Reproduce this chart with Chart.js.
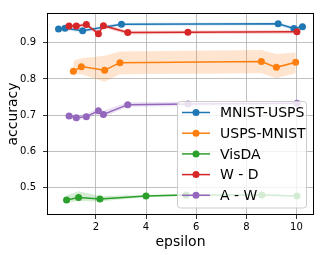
<!DOCTYPE html>
<html>
<head>
<meta charset="utf-8">
<script src="https://cdn.jsdelivr.net/npm/chart.js@4"></script>
<style>
  html, body { margin: 0; padding: 0; background: #fff; }
  #wrap { width: 320px; height: 255px; }
</style>
</head>
<body>
<div id="wrap"><canvas id="c" width="320" height="255"></canvas></div>
<script>
'use strict';

/* ── Data ──────────────────────────────────────────────────── */
const xTicks = [2, 4, 6, 8, 10];
const xTickLabels = ['2', '4', '6', '8', '10'];
const yTicks = [0.5, 0.6, 0.7, 0.8, 0.9];
const yTickLabels = ['0.5', '0.6', '0.7', '0.8', '0.9'];

const seriesNames = ['MNIST-USPS', 'USPS-MNIST', 'VisDA', 'W - D', 'A - W'];
const seriesColors = ['#1f77b4', '#ff7f0e', '#2ca02c', '#d62728', '#9467bd'];
const bandColors = ['rgba(31,119,180,0.2)', 'rgba(255,127,14,0.2)', 'rgba(44,160,44,0.2)',
                    'rgba(214,39,40,0.2)', 'rgba(148,103,189,0.2)'];

const epsMU = [0.51, 0.77, 1.47, 3.02, 9.27, 9.9, 10.24];
const accMU = [0.938, 0.940, 0.933, 0.951, 0.952, 0.939, 0.944];
const loMU  = [0.934, 0.936, 0.928, 0.947, 0.948, 0.934, 0.940];
const hiMU  = [0.942, 0.944, 0.938, 0.955, 0.956, 0.944, 0.948];

const epsUM = [1.1, 1.42, 2.35, 2.96, 8.6, 9.2, 9.97];
const accUM = [0.821, 0.834, 0.824, 0.845, 0.848, 0.832, 0.846];
const loUM  = [0.812, 0.813, 0.792, 0.813, 0.816, 0.802, 0.816];
const hiUM  = [0.850, 0.857, 0.864, 0.876, 0.880, 0.869, 0.873];

const epsVD = [0.83, 1.31, 2.16, 4.0, 5.6, 8.62, 10.02];
const accVD = [0.466, 0.473, 0.469, 0.477, 0.480, 0.480, 0.477];
const loVD  = [0.458, 0.463, 0.462, 0.474, 0.477, 0.477, 0.474];
const hiVD  = [0.478, 0.490, 0.477, 0.480, 0.483, 0.483, 0.480];

const epsWD = [0.93, 1.22, 1.62, 2.1, 2.3, 3.27, 5.67, 10.02];
const accWD = [0.946, 0.946, 0.950, 0.925, 0.947, 0.928, 0.929, 0.930];
const loWD  = [0.941, 0.941, 0.945, 0.919, 0.941, 0.923, 0.924, 0.925];
const hiWD  = [0.951, 0.951, 0.955, 0.931, 0.953, 0.933, 0.934, 0.935];

const epsAW = [0.93, 1.22, 1.62, 2.1, 2.3, 3.27, 5.67, 10.02];
const accAW = [0.698, 0.693, 0.696, 0.712, 0.702, 0.729, 0.731, 0.733];
const loAW  = [0.692, 0.687, 0.690, 0.704, 0.695, 0.723, 0.725, 0.727];
const hiAW  = [0.704, 0.700, 0.703, 0.720, 0.712, 0.736, 0.737, 0.739];

const allEps = [epsMU, epsUM, epsVD, epsWD, epsAW];
const allAcc = [accMU, accUM, accVD, accWD, accAW];
const allLo  = [loMU, loUM, loVD, loWD, loAW];
const allHi  = [hiMU, hiUM, hiVD, hiWD, hiAW];

/* ── Build datasets ────────────────────────────────────────── */
const pts = (xs, ys) => xs.map((x, i) => ({ x, y: ys[i] }));
const datasets = [];

// bands: lo, then hi filled down to lo
seriesNames.forEach((name, s) => {
  const loIdx = datasets.length;
  datasets.push({
    data: pts(allEps[s], allLo[s]), borderWidth: 0, pointRadius: 0,
    fill: false, order: 10, isBand: true,
  });
  datasets.push({
    data: pts(allEps[s], allHi[s]), borderWidth: 0, pointRadius: 0,
    backgroundColor: bandColors[s], fill: loIdx, order: 10, isBand: true,
  });
});

// lines; later series on top
seriesNames.forEach((name, s) => {
  datasets.push({
    label: name,
    data: pts(allEps[s], allAcc[s]),
    borderColor: seriesColors[s],
    backgroundColor: seriesColors[s],
    borderWidth: 1.5,
    pointRadius: 3.5,
    pointBorderWidth: 0,
    fill: false,
    tension: 0,
    order: 5 - s,
  });
});

/* ── Frame + legend plugin ─────────────────────────────────── */
const framePlugin = {
  id: 'frame',
  afterDraw(chart) {
    const { ctx, chartArea: a } = chart;
    ctx.save();
    ctx.strokeStyle = '#000';
    ctx.lineWidth = 1;
    ctx.strokeRect(Math.round(a.left) + 0.5, Math.round(a.top) + 0.5,
                   Math.round(a.right - a.left) - 1, Math.round(a.bottom - a.top) - 1);

    // legend box (lower right)
    const bx = 177.5, by = 101.5, bw = 129, bh = 106.5, r = 3;
    ctx.beginPath();
    ctx.moveTo(bx + r, by);
    ctx.arcTo(bx + bw, by, bx + bw, by + bh, r);
    ctx.arcTo(bx + bw, by + bh, bx, by + bh, r);
    ctx.arcTo(bx, by + bh, bx, by, r);
    ctx.arcTo(bx, by, bx + bw, by, r);
    ctx.closePath();
    ctx.fillStyle = 'rgba(255,255,255,0.8)';
    ctx.fill();
    ctx.strokeStyle = '#cccccc';
    ctx.lineWidth = 1;
    ctx.stroke();

    ctx.font = '14px "DejaVu Sans"';
    ctx.textBaseline = 'middle';
    ctx.textAlign = 'left';
    seriesNames.forEach((name, i) => {
      const y = 112.5 + i * 20.7;
      ctx.strokeStyle = seriesColors[i];
      ctx.lineWidth = 1.5;
      ctx.beginPath();
      ctx.moveTo(182, y);
      ctx.lineTo(210, y);
      ctx.stroke();
      ctx.fillStyle = seriesColors[i];
      ctx.beginPath();
      ctx.arc(196, y, 3.5, 0, Math.PI * 2);
      ctx.fill();
      ctx.fillStyle = '#000';
      ctx.fillText(name, 220, y + 1);
    });
    ctx.restore();
  }
};

/* ── Chart ─────────────────────────────────────────────────── */
const tickFont = { family: 'DejaVu Sans', size: 10 };
const titleFont = { family: 'DejaVu Sans', size: 14 };

new Chart(document.getElementById('c').getContext('2d'), {
  type: 'line',
  data: { datasets },
  plugins: [framePlugin],
  options: {
    responsive: false,
    animation: false,
    layout: { padding: { top: 6, right: 6, left: 0, bottom: 0 } },
    plugins: {
      legend: { display: false },
      tooltip: { enabled: false },
      filler: { propagate: false },
    },
    scales: {
      x: {
        type: 'linear',
        min: 0.05, max: 10.7,
        afterBuildTicks: (sc) => { sc.ticks = xTicks.map(v => ({ value: v })); },
        afterFit: (sc) => { sc.height = 40; },
        grid: { color: '#b0b0b0', lineWidth: 0.8, tickColor: '#000', tickLength: 4 },
        border: { display: false },
        ticks: {
          color: '#000', font: tickFont, padding: 2, maxRotation: 0,
          callback: (v, i) => xTickLabels[i],
        },
        title: { display: true, text: 'epsilon', color: '#000', font: titleFont,
                 padding: { top: 4, bottom: 4 } },
      },
      y: {
        type: 'linear',
        min: 0.4245, max: 0.982,
        afterBuildTicks: (sc) => { sc.ticks = yTicks.map(v => ({ value: v })); },
        afterFit: (sc) => { sc.width = 47; },
        grid: { color: '#b0b0b0', lineWidth: 0.8, tickColor: '#000', tickLength: 4 },
        border: { display: false },
        ticks: {
          color: '#000', font: tickFont, padding: 7,
          callback: (v, i) => yTickLabels[i],
        },
        title: { display: true, text: 'accuracy', color: '#000', font: titleFont,
                 padding: { top: 5, bottom: 4 } },
      },
    },
  },
});
</script>
</body>
</html>
